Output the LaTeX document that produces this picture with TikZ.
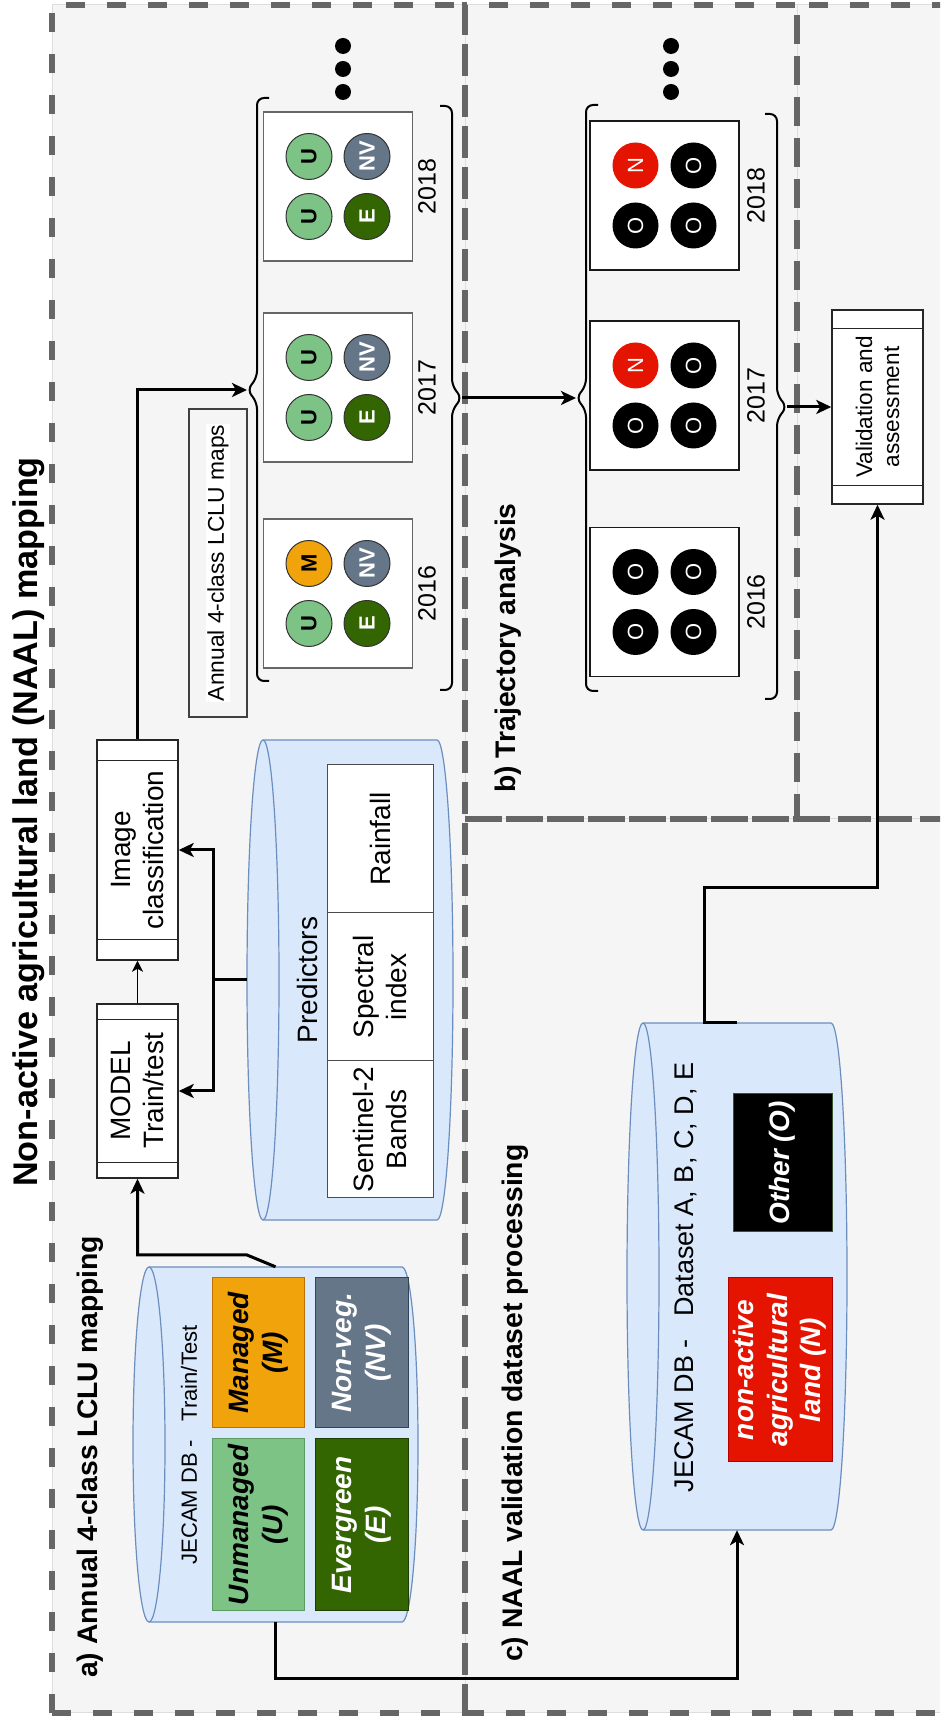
\documentclass[tikz,border=0pt]{standalone}
\usepackage{fontspec}
\setmainfont{Liberation Sans}
\usetikzlibrary{arrows.meta,calc}

\definecolor{regfill}{HTML}{F5F5F5}
\definecolor{regdash}{HTML}{666666}
\definecolor{regline}{HTML}{DDDDDD}
\definecolor{dbfill}{HTML}{DAE8FC}
\definecolor{dbline}{HTML}{6C8EBF}
\definecolor{unmanC}{HTML}{7EC386}
\definecolor{unmanD}{HTML}{5B9B63}
\definecolor{managC}{HTML}{F0A30A}
\definecolor{managD}{HTML}{BD7000}
\definecolor{nvegC}{HTML}{647687}
\definecolor{nvegD}{HTML}{314354}
\definecolor{everC}{HTML}{336600}
\definecolor{everD}{HTML}{1E3D00}
\definecolor{naalC}{HTML}{E51400}
\definecolor{naalD}{HTML}{B20000}
\definecolor{otherD}{HTML}{3A5431}

\newcommand{\fsz}[2]{\fontsize{#1}{#2}\selectfont}
% database cylinder: name, u1, v1, u2, v2
\newcommand{\dbcyl}[5]{%
  \pgfmathsetmacro{\cylrx}{(#4-#2)/2}%
  \filldraw[db] (#2,#3+16) -- (#2,#5-16)
    arc[start angle=180,end angle=360,x radius=\cylrx pt,y radius=16pt]
    -- (#4,#3+16) arc[start angle=0,end angle=180,x radius=\cylrx pt,y radius=16pt] -- cycle;
  \draw[db] (#2,#3+16) arc[start angle=180,end angle=360,x radius=\cylrx pt,y radius=16pt];
  \node[inner sep=0pt,minimum width=#4-#2,minimum height=#5-#3] (#1) at ({(#2+#4)/2},{(#3+#5)/2}) {};}
% side bars of a process box
\newcommand{\proclines}[2]{%
  \draw[procl] ($(#1.north west)!#2!(#1.north east)$) -- ($(#1.south west)!#2!(#1.south east)$)
    ($(#1.north east)!#2!(#1.north west)$) -- ($(#1.south east)!#2!(#1.south west)$);}
% curly bracket: u1, u2, tip, spine, hook direction
\newcommand{\curly}[5]{%
  \draw[brace] (#1,#4+12*#5) -- (#1,#4) -- (#3-12,#4) -- (#3,#4-10*#5) -- (#3+12,#4) -- (#2,#4) -- (#2,#4+12*#5);}

\begin{document}
\begin{tikzpicture}[x=1pt,y=-1pt,rotate=90,transform shape]
\tikzstyle{regbg}=[fill=regfill,draw=regline,line width=1pt]
\tikzstyle{region}=[draw=regdash,line width=6pt,dash pattern=on 19pt off 22pt]
\tikzstyle{db}=[fill=dbfill,draw=dbline,line width=1.2pt]
\tikzstyle{proc}=[draw=black!85,fill=white,line width=1.5pt,minimum height=81pt,align=center,font=\fsz{28}{33.6}]
\tikzstyle{procl}=[draw=black!85,line width=1.2pt]
\tikzstyle{cbox}=[draw,line width=1pt,inner sep=0pt,align=center,font=\fsz{28}{33.6}\bfseries\itshape]
\tikzstyle{cell}=[draw=black!70,fill=white,line width=1pt,minimum height=106pt,align=center,font=\fsz{28}{33.6}]
\tikzstyle{mapa}=[draw=black!60,fill=white,line width=1.5pt,minimum size=149pt]
\tikzstyle{mapb}=[draw=black!90,fill=white,line width=1.5pt,minimum size=149pt]
\tikzstyle{clsa}=[circle,minimum size=46pt,inner sep=0pt,draw=black!80,line width=1pt,font=\fsz{22}{26}\bfseries]
\tikzstyle{clsb}=[circle,minimum size=46pt,inner sep=0pt,fill=black,text=white,font=\fsz{22}{26}]
\tikzstyle{yr}=[anchor=north,inner sep=0pt,font=\fsz{25}{30}]
\tikzstyle{sect}=[anchor=base west,inner sep=0pt,font=\fsz{28.3}{34}\bfseries]
\tikzstyle{dot}=[circle,fill=black,minimum size=16pt,inner sep=0pt]
\tikzstyle{conn}=[line width=3pt,-{Stealth[length=15pt,width=14pt,inset=4pt]}]
\tikzstyle{thinconn}=[line width=1.5pt,-{Stealth[length=11pt,width=11pt,inset=3pt]}]
\tikzstyle{brace}=[line width=2pt,rounded corners=7pt]

\path[use as bounding box,clip] (0,0) rectangle (1718,940);
\foreach \ua/\va/\ub/\vb in {5/52/1713/465,899/465/1713/797,899/797/1713/1000,5/465/899/1000}
  \draw[regbg] (\ua,\va) rectangle (\ub,\vb);
\foreach \ua/\va/\ub/\vb in {5/52/1713/465,899/465/1713/797,899/797/1713/1000,5/465/899/1000}
  \draw[region] (\ua,\va) rectangle (\ub,\vb);

\node[anchor=base west,inner sep=0pt,font=\fsz{34.2}{40}\bfseries] (title) at (531,37) {Non-active agricultural land (NAAL) mapping};
\node[sect] (secta) at (40,97.6) {a) Annual 4-class LCLU mapping};
\node[sect] (sectb) at (925,515.6) {b) Trajectory analysis};
\node[sect] (sectc) at (56,522.6) {c) NAAL validation dataset processing};

% a) training data and predictors
\dbcyl{jecA}{96}{133}{451}{418}
\node[font=\fsz{22}{26}] (jecAt) at (273,189) {JECAM DB -\ \ \ Train/Test};
\node[cbox,fill=unmanC,draw=unmanD,minimum width=172pt,minimum height=92pt] (clsU) at (193,258) {Unmanaged\\(U)};
\node[cbox,fill=managC,draw=managD,minimum width=150pt,minimum height=92pt] (clsM) at (365,258) {Managed\\(M)};
\node[cbox,fill=everC,draw=everD,text=white,minimum width=172pt,minimum height=93pt] (clsE) at (193,361.5) {Evergreen\\(E)};
\node[cbox,fill=nvegC,draw=nvegD,text=white,minimum width=150pt,minimum height=93pt] (clsNV) at (365,361.5) {Non-veg.\\(NV)};

\dbcyl{pred}{498}{247}{978}{453}
\node[font=\fsz{28}{33.6}] (predt) at (738,307.5) {Predictors};
\node[cell,minimum width=137pt] (cS2) at (588.5,380) {Sentinel-2\\Bands};
\node[cell,minimum width=148pt] (cSI) at (731,380) {Spectral\\index};
\node[cell,minimum width=148pt] (cRF) at (879,380) {Rainfall};

\node[proc,minimum width=174pt] (model) at (627,137.5) {MODEL\\Train/test};
\node[proc,minimum width=220pt] (imgc) at (868,137.5) {Image\\classification};
\proclines{model}{16pt}
\proclines{imgc}{21pt}

\node[draw=black!75,fill=regfill,line width=1.2pt,minimum width=308pt,minimum height=58pt] (lmaps) at (1155,218) {};
\node[fill=white,inner sep=1pt,font=\fsz{22.8}{27}] (lmapst) at (lmaps) {Annual 4-class LCLU maps};

% annual maps
\foreach \yr/\uc/\trl/\trf in {2016/1124.5/M/managC,2017/1330.5/U/unmanC,2018/1531.5/U/unmanC}{
  \node[mapa] (ma\yr) at (\uc,338) {};
  \node[yr] (ya\yr) at (\uc,418) {\yr};
  \node[clsa,fill=unmanC] (ma\yr tl) at (\uc-30,309) {U};
  \node[clsa,fill=\trf] (ma\yr tr) at (\uc+30,309) {\trl};
  \node[clsa,fill=everC,text=white] (ma\yr bl) at (\uc-30,367) {E};
  \node[clsa,fill=nvegC,text=white] (ma\yr br) at (\uc+30,367) {NV};
}
% trajectory maps
\foreach \yr/\uc/\trl/\trf in {2016/1116/O/black,2017/1322.5/N/naalC,2018/1522.5/N/naalC}{
  \node[mapb] (mb\yr) at (\uc,664.5) {};
  \node[yr] (yb\yr) at (\uc,747) {\yr};
  \node[clsb] (mb\yr tl) at (\uc-30,635.5) {O};
  \node[clsb,fill=\trf] (mb\yr tr) at (\uc+30,635.5) {\trl};
  \node[clsb] (mb\yr bl) at (\uc-30,693.5) {O};
  \node[clsb] (mb\yr br) at (\uc+30,693.5) {O};
}
\foreach \i/\uu in {1/1626,2/1649,3/1672}{
  \node[dot] (dota\i) at (\uu,343) {};
  \node[dot] (dotb\i) at (\uu,671) {};
}

\curly{1037}{1620}{1328}{257}{1}
\curly{1028}{1612}{1320}{452}{-1}
\curly{1027}{1613}{1320}{586}{1}
\curly{1019}{1604}{1311}{777}{-1}
\coordinate (braA1) at (1328,247);
\coordinate (braA2) at (1320,462);
\coordinate (braB1) at (1320,576);
\coordinate (braB2) at (1311,787);

\node[proc,minimum width=194pt,minimum height=91pt,font=\fsz{22.6}{27}] (val) at (1311,877.5) {Validation and\\assessment};
\proclines{val}{19pt}

% c) validation data
\dbcyl{jecC}{188}{627}{695}{847}
\node[font=\fsz{27}{32}] (jecCt) at (440.5,686) {JECAM DB -\ \ \ Dataset A, B, C, D, E};
\node[cbox,fill=black,draw=otherD,text=white,minimum width=138pt,minimum height=99pt] (clsO) at (555,782.5) {Other (O)};
\node[cbox,fill=naalC,draw=naalD,text=white,minimum width=184pt,minimum height=104pt] (clsN) at (348,780) {non-active\\agricultural\\land (N)};

% connectors
\draw[conn] (jecA.east) -- (463,247) -- (463,137.5) -- (model.west);
\draw[thinconn] (model.east) -- (imgc.west);
\coordinate (pj) at (738,213);
\draw[line width=3pt] (pred.north) -- (pj);
\draw[conn] (pj) -- (868,213) -- (imgc.south);
\draw[conn] (pj) -- (627,213) -- (model.south);
\draw[conn] (imgc.east) -- (1328,137.5) -- (braA1);
\draw[conn] (braA2) -- (braB1);
\draw[conn] (braB2) -- (val.north);
\draw[conn] (jecC.east) -- ++(0,-33) -- (830,704) -- (830,877.5) -- (val.west);
\draw[conn] (jecA.west) -- (39,275.5) -- (39,737) -- (jecC.west);
\end{tikzpicture}
\end{document}
